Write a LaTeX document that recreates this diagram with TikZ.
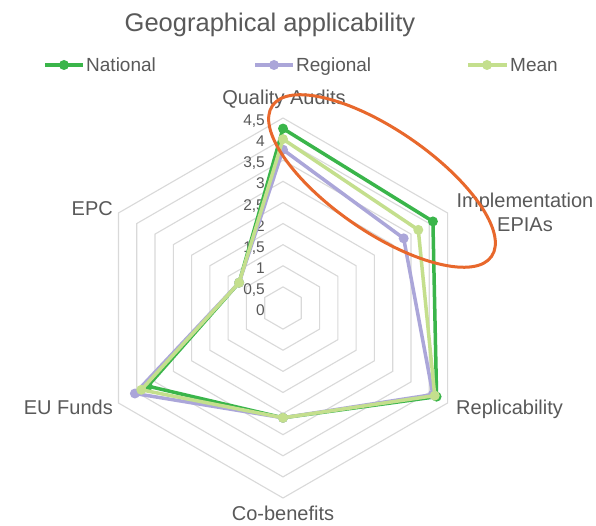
\documentclass[tikz,border=0pt]{standalone}
\usepackage{fontspec}
\setmainfont{Liberation Sans}
\definecolor{txt}{HTML}{595959}
\definecolor{gridc}{HTML}{D9D9D9}
\definecolor{natc}{HTML}{3AB54A}
\definecolor{regc}{HTML}{ABA6D9}
\definecolor{meanc}{HTML}{C4DF8D}
\definecolor{ellc}{HTML}{E8682C}
\begin{document}
\begin{tikzpicture}[x=1pt,y=-1pt,
  gridline/.style={draw=gridc, line width=1.1pt},
  serie/.style={line width=3.5pt, line join=round},
  axlab/.style={text=txt, font=\fontsize{20}{24}\selectfont, inner sep=0pt, align=center},
  vallab/.style={text=txt, font=\fontsize{15.5}{18}\selectfont, inner sep=0pt, anchor=mid east},
  leglab/.style={text=txt, font=\fontsize{19}{22}\selectfont, inner sep=0pt, anchor=mid west},
  titlestyle/.style={text=txt, font=\fontsize{25.5}{30}\selectfont, inner sep=0pt}]
\fill[white] (0,0) rectangle (596,526);
\useasboundingbox (0,0) rectangle (596,526);
% grid
\begin{scope}[shift={(283,308)}]
\foreach \k in {1,...,9}{
  \pgfmathsetmacro\rr{\k*21.111}
  \draw[gridline] (-90:\rr) -- (-30:\rr) -- (30:\rr) -- (90:\rr) -- (150:\rr) -- (210:\rr) -- cycle;
}
\end{scope}
% value labels
\foreach \v/\t [count=\j] in {0/0, 0.5/{0,5}, 1/1, 1.5/{1,5}, 2/2, 2.5/{2,5}, 3/3, 3.5/{3,5}, 4/4, 4.5/{4,5}}
  \node[vallab] (val\j) at (265, {313-\v*42.222}) {\t};
% axis labels
\node[axlab, anchor=mid] (qa) at (284,102) {Quality Audits};
\node[axlab] (impl) at (525,212) {Implementation\\EPIAs};
\node[axlab, anchor=mid west] (repl) at (456,412) {Replicability};
\node[axlab, anchor=mid] (cob) at (283,518) {Co-benefits};
\node[axlab, anchor=mid east] (euf) at (113,412) {EU Funds};
\node[axlab, anchor=mid east] (epc) at (113,213) {EPC};
% series points
\begin{scope}[shift={(283,308)}]
\foreach \v [count=\i] in {4.25,4.1,4.2,2.6,3.7,1.2}
  \coordinate (N\i) at ({-150+60*\i}:{\v*42.222});
\foreach \v [count=\i] in {3.75,3.3,4.1,2.6,4.05,1.2}
  \coordinate (R\i) at ({-150+60*\i}:{\v*42.222});
\foreach \v [count=\i] in {4.0,3.7,4.15,2.6,3.875,1.2}
  \coordinate (M\i) at ({-150+60*\i}:{\v*42.222});
\end{scope}
\draw[serie, natc] (N1) -- (N2) -- (N3) -- (N4) -- (N5) -- (N6) -- cycle;
\foreach \i in {1,...,6} \fill[natc] (N\i) circle (5);
\draw[serie, regc] (R1) -- (R2) -- (R3) -- (R4) -- (R5) -- (R6) -- cycle;
\foreach \i in {1,...,6} \fill[regc] (R\i) circle (5);
\draw[serie, meanc] (M1) -- (M2) -- (M3) -- (M4) -- (M5) -- (M6) -- cycle;
\foreach \i in {1,...,6} \fill[meanc] (M\i) circle (5);
% title
\node[titlestyle] (title) at (270,25) {Geographical applicability};
% legend
\coordinate (l1a) at (45,65); \coordinate (l1b) at (83,65); \coordinate (l1m) at (64,65);
\draw[serie, natc] (l1a) -- (l1b); \fill[natc] (l1m) circle (5);
\node[leglab] (lg1) at (86,69) {National};
\coordinate (l2a) at (255,65); \coordinate (l2b) at (293,65); \coordinate (l2m) at (274,65);
\draw[serie, regc] (l2a) -- (l2b); \fill[regc] (l2m) circle (5);
\node[leglab] (lg2) at (296,69) {Regional};
\coordinate (l3a) at (468,65); \coordinate (l3b) at (507,65); \coordinate (l3m) at (487,65);
\draw[serie, meanc] (l3a) -- (l3b); \fill[meanc] (l3m) circle (5);
\node[leglab] (lg3) at (510,69) {Mean};
% highlight ellipse
\coordinate (ec) at (382,181);
\draw[ellc, line width=3pt, rotate around={-34.5:(ec)}] (ec) ellipse [x radius=133, y radius=51];
\end{tikzpicture}
\end{document}
